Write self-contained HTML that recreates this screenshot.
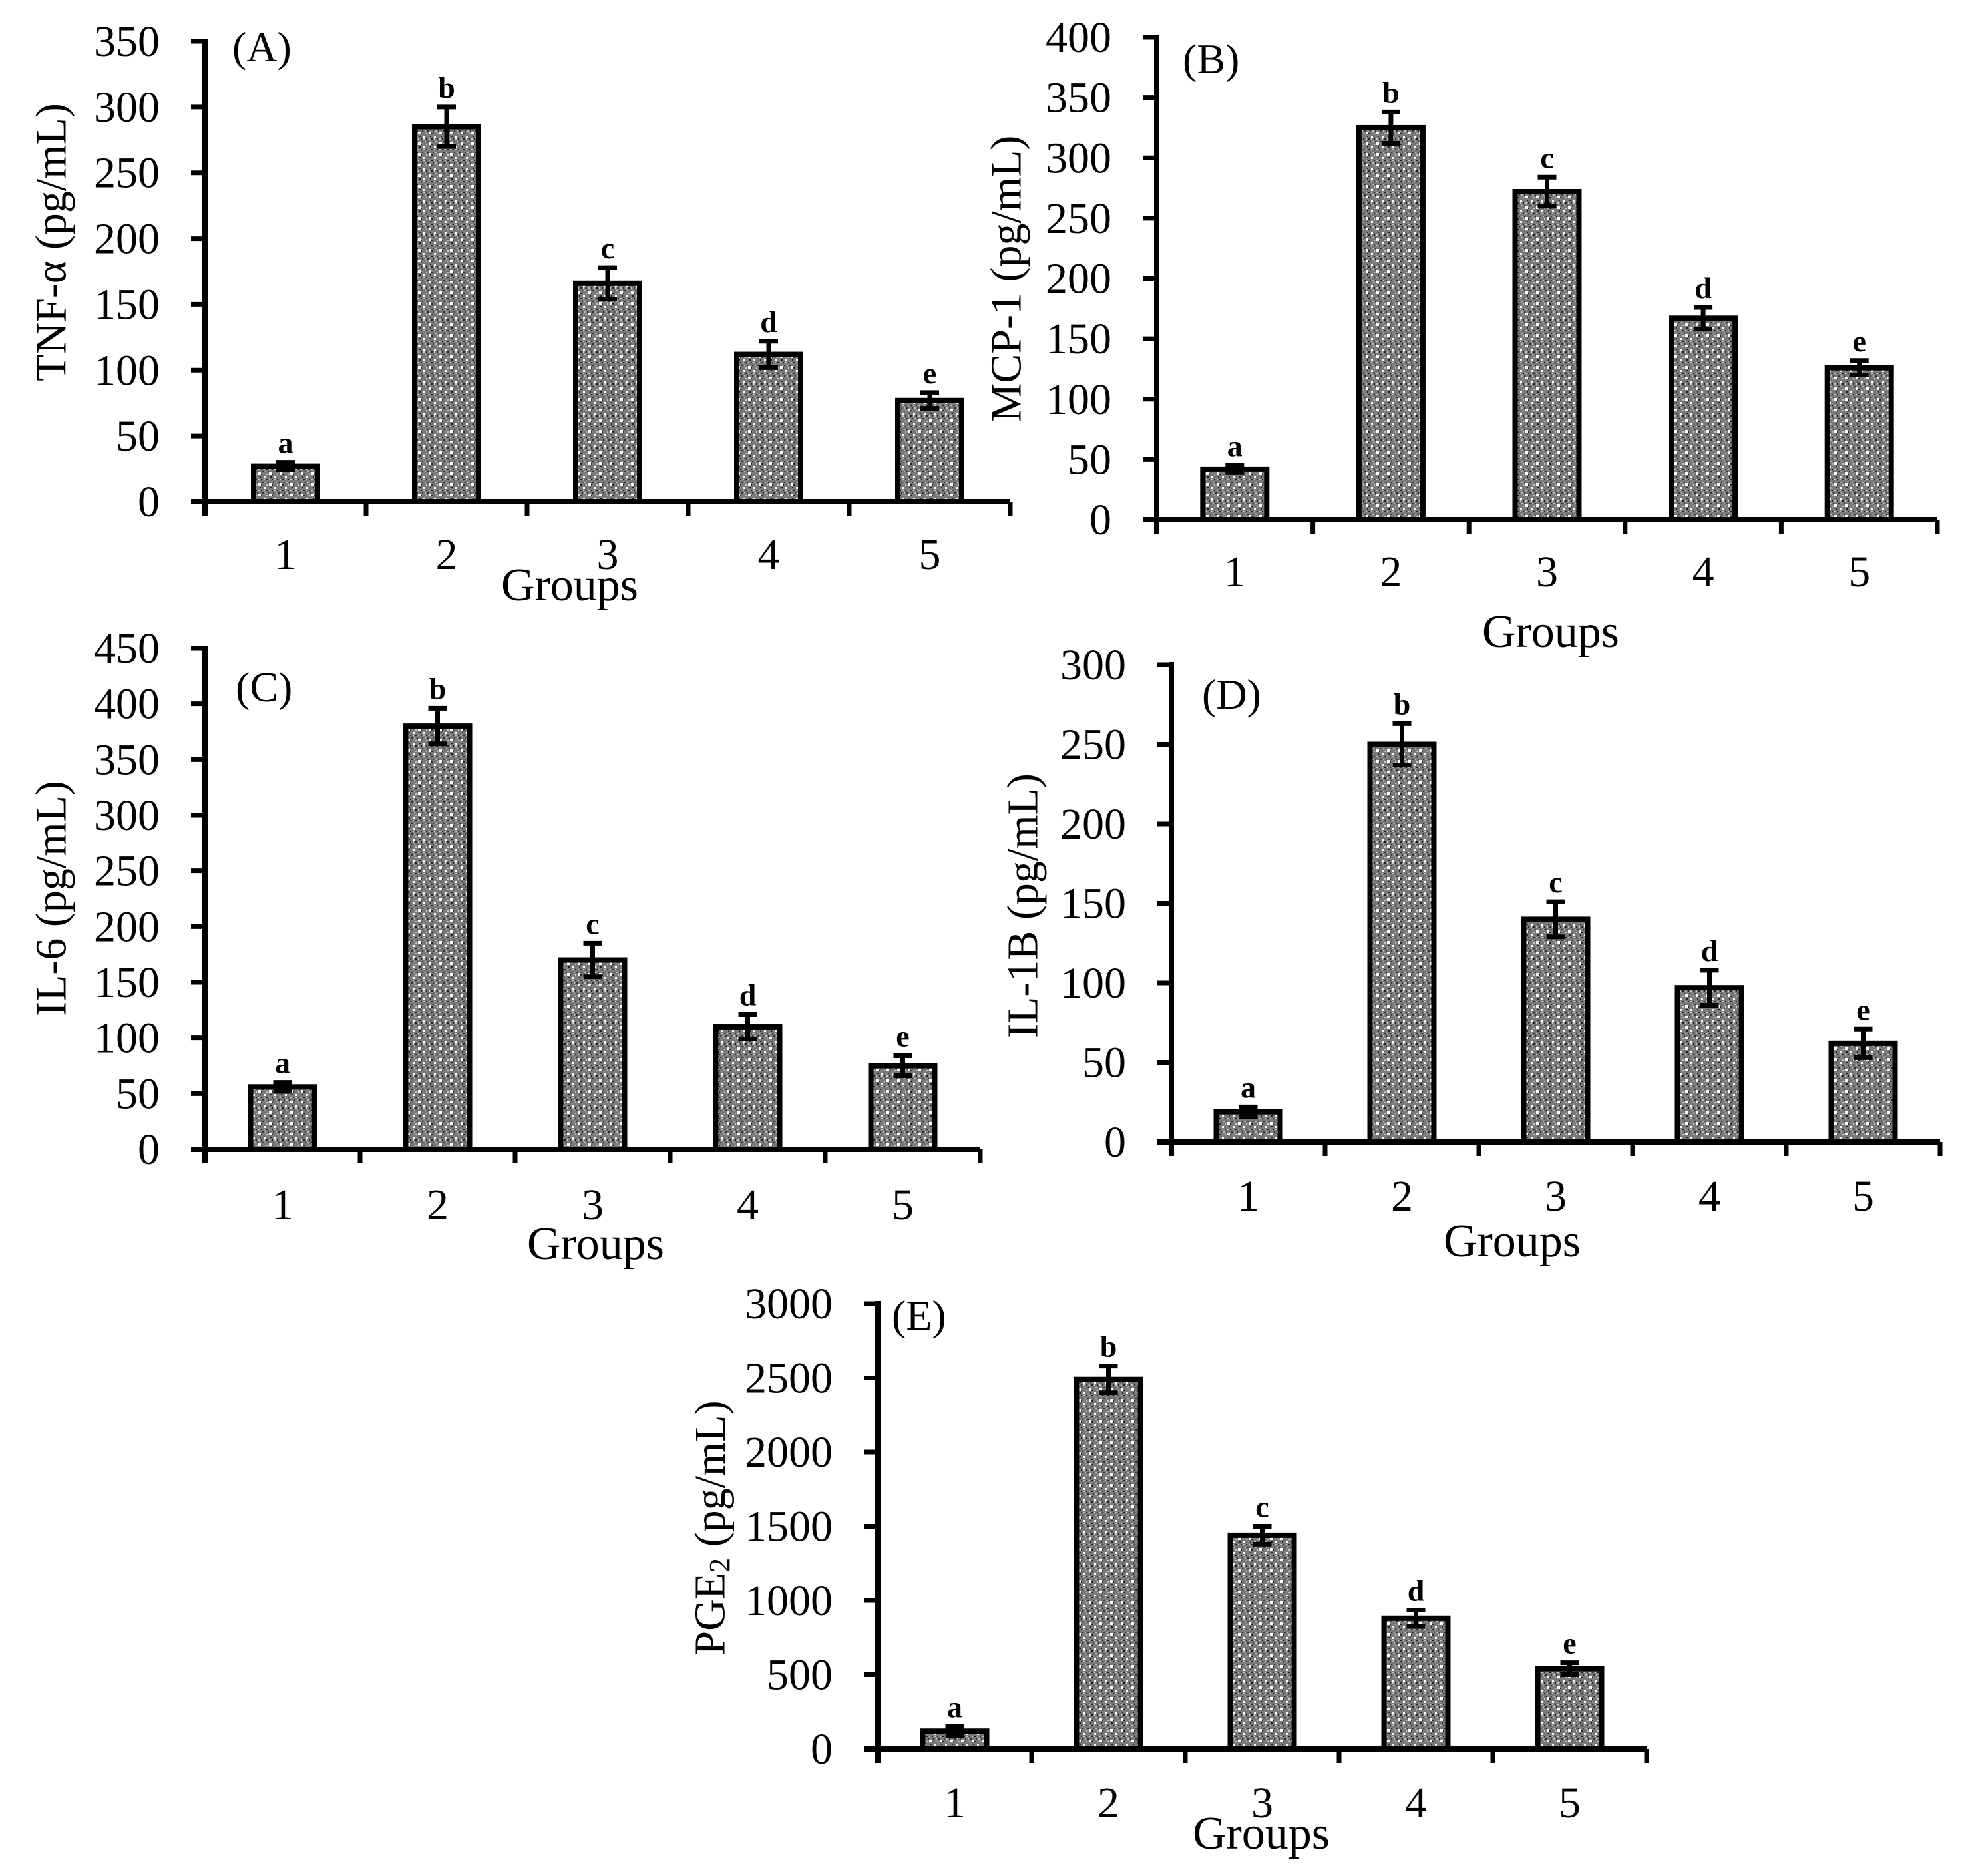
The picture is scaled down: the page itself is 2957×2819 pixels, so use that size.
<!DOCTYPE html>
<html><head><meta charset="utf-8"><style>
html,body{margin:0;padding:0;background:#fff}
svg{display:block}
text{font-family:"Liberation Serif",serif;fill:#000}
</style></head><body>
<svg id="fig" width="2957" height="2819" viewBox="0 0 2957 2819" xmlns="http://www.w3.org/2000/svg">
<defs>
<pattern id="dots" patternUnits="userSpaceOnUse" width="16" height="16">
<rect width="16" height="16" fill="#7a7a7a"/>
<rect x="0" y="0" width="2" height="2" fill="#222"/><rect x="4" y="0" width="2" height="2" fill="#c8c8c8"/>
<rect x="8" y="0" width="2" height="2" fill="#222"/><rect x="12" y="0" width="2" height="2" fill="#c8c8c8"/>
<rect x="2" y="4" width="2" height="2" fill="#333"/><rect x="10" y="4" width="2" height="2" fill="#333"/>
<rect x="0" y="8" width="2" height="2" fill="#c8c8c8"/><rect x="8" y="8" width="2" height="2" fill="#222"/>
<rect x="4" y="6" width="4" height="4" fill="#fff"/><rect x="12" y="12" width="3" height="3" fill="#fff"/>
<rect x="6" y="12" width="2" height="2" fill="#222"/><rect x="14" y="4" width="2" height="2" fill="#bbb"/>
</pattern>
</defs>
</svg>
<script>
const categories = ["1","2","3","4","5"];
const sigLetters = ["a","b","c","d","e"];
const valuesA = [27, 285, 166, 112, 77];
const errorsA = [3, 15, 12, 10, 6];
const ticksA = [0,50,100,150,200,250,300,350];
const valuesB = [42, 325, 272, 167, 126];
const errorsB = [3, 13, 12, 9, 6];
const ticksB = [0,50,100,150,200,250,300,350,400];
const valuesC = [56, 380, 170, 110, 75];
const errorsC = [4, 16, 15, 11, 9];
const ticksC = [0,50,100,150,200,250,300,350,400,450];
const valuesD = [19, 250, 140, 97, 62];
const errorsD = [3, 13, 11, 11, 9];
const ticksD = [0,50,100,150,200,250,300];
const valuesE = [120, 2490, 1440, 880, 540];
const errorsE = [30, 90, 60, 55, 40];
const ticksE = [0,500,1000,1500,2000,2500,3000];

const NS = "http://www.w3.org/2000/svg";
const svg = document.getElementById("fig");
function mk(tag, attrs, parent){
  const e = document.createElementNS(NS, tag);
  for (const k in attrs) e.setAttribute(k, attrs[k]);
  (parent||svg).appendChild(e);
  return e;
}
const panels = [
 {id:"a", tag:"(A)", label:"TNF-α (pg/mL)", vals:valuesA, errs:errorsA, ticks:ticksA, ax:308, y0:754, yt:62, cw:242, lx:77, ly:364, cb:855, gb:902, gx:856, tx:349, tb:92},
 {id:"b", tag:"(B)", label:"MCP-1 (pg/mL)", vals:valuesB, errs:errorsB, ticks:ticksB, ax:1738, y0:781, yt:56, cw:234.6, lx:1512, ly:419, cb:881, gb:972, gx:2330, tx:1777, tb:110},
 {id:"c", tag:"(C)", label:"IL-6 (pg/mL)", vals:valuesC, errs:errorsC, ticks:ticksC, ax:308, y0:1727, yt:974, cw:233, lx:77, ly:1350, cb:1832, gb:1892, gx:895, tx:354, tb:1054},
 {id:"d", tag:"(D)", label:"IL-1B (pg/mL)", vals:valuesD, errs:errorsD, ticks:ticksD, ax:1760, y0:1716, yt:999, cw:231, lx:1537, ly:1361, cb:1819, gb:1888, gx:2272, tx:1806, tb:1065},
 {id:"e", tag:"(E)", label:"PGE2", vals:valuesE, errs:errorsE, ticks:ticksE, ax:1319, y0:2628, yt:1959, cw:231, lx:1067, ly:2296, cb:2731, gb:2778, gx:1895, tx:1340, tb:1998}
];
panels.forEach(p=>{
  const g = mk("g", {});
  
  
  const max = p.ticks[p.ticks.length-1];
  const yS = v => p.y0 - (v/max)*(p.y0-p.yt);
  const xC = i => p.ax + p.cw*(i+0.5);
  const endX = p.ax + p.cw*categories.length;
  // bars
  p.vals.forEach((v,i)=>{
    const r = mk("rect",{x:xC(i)-48, y:yS(v), width:96, height:p.y0-yS(v), fill:"url(#dots)", stroke:"#000", "stroke-width":8}, g);
    
    
    const e = p.errs[i], x = xC(i);
    const eb = mk("path",{d:`M${x},${yS(v+e)}V${yS(v-e)}M${x-14},${yS(v+e)}H${x+14}M${x-14},${yS(v-e)}H${x+14}`, stroke:"#000", "stroke-width":7, fill:"none"}, g);
    
    
    const t = mk("text",{x:x, y:yS(v+e)-14, "text-anchor":"middle", "font-size":46, "font-weight":"bold"}, g);
    t.textContent = sigLetters[i];
    
    
    const c = mk("text",{x:x, y:p.cb, "text-anchor":"middle", "font-size":66}, g);
    c.textContent = categories[i];
    
    
  });
  // axes
  const yax = mk("line",{x1:p.ax, y1:p.yt-4, x2:p.ax, y2:p.y0+21, stroke:"#000", "stroke-width":8}, g);
  
  
  const xax = mk("line",{x1:p.ax-21, y1:p.y0, x2:endX, y2:p.y0, stroke:"#000", "stroke-width":8}, g);
  
  
  for (let i=1;i<=categories.length;i++){
    const xt = p.ax + p.cw*i;
    mk("line",{x1:xt, y1:p.y0, x2:xt, y2:p.y0+21, stroke:"#000", "stroke-width":7}, g);
  }
  p.ticks.forEach(t=>{
    mk("line",{x1:p.ax-21, y1:yS(t), x2:p.ax, y2:yS(t), stroke:"#000", "stroke-width":7}, g);
    const tl = mk("text",{x:p.ax-68, y:yS(t)+22, "text-anchor":"end", "font-size":66}, g);
    tl.textContent = t;
    
    
  });
  const yl = mk("text",{x:p.lx, y:p.ly, "text-anchor":"middle", "dominant-baseline":"central", "font-size":66, transform:`rotate(-90 ${p.lx} ${p.ly})`}, g);
  if (p.label === "PGE2"){
    yl.innerHTML = 'PGE<tspan font-size="44" dy="14">2</tspan><tspan dy="-14"> (pg/mL)</tspan>';
  } else yl.textContent = p.label;
  
  
  const gl = mk("text",{x:p.gx, y:p.gb, "text-anchor":"middle", "font-size":70}, g);
  gl.textContent = "Groups";
  
  
  const pl = mk("text",{x:p.tx, y:p.tb, "font-size":64}, g);
  pl.textContent = p.tag;
  
  
});
</script>
</body></html>
